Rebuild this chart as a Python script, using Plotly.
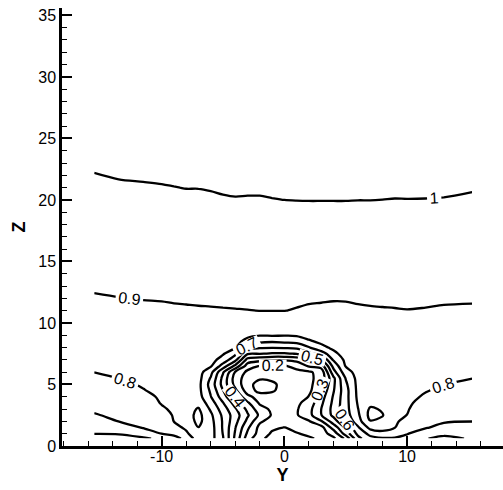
import numpy as np
import plotly.graph_objects as go

FONT = "Liberation Sans, Arial, Helvetica, sans-serif"

# Sample positions: spanwise Y (columns) and height Z (rows)
span_y = [-15.5, -13.5, -11.5, -10, -9, -8, -7, -6, -5, -4, -3, -2, -1, 0,
          1, 2, 3, 4, 5, 6, 7, 8, 9, 10, 11.5, 13, 15.3]
height_z = [0.6, 1, 1.5, 2, 2.5, 3, 3.5, 4, 4.5, 5, 5.5, 6, 6.5, 7, 7.5, 8,
            8.5, 9, 9.5, 10, 11, 12, 13, 15, 18, 21, 24]

# Velocity ratio profiles, one list per Y station (bottom to top)
u_y_neg15_5 = [0.575, 0.601, 0.631, 0.663, 0.694, 0.712, 0.727, 0.741, 0.756, 0.771, 0.785, 0.8005, 0.808, 0.816,
               0.824, 0.831, 0.839, 0.847, 0.855, 0.863, 0.879, 0.895, 0.907, 0.927, 0.957, 0.988, 1.018]
u_y_neg13_5 = [0.565, 0.605, 0.655, 0.701, 0.716, 0.730, 0.744, 0.758, 0.772, 0.786, 0.8005, 0.808, 0.815, 0.823,
               0.831, 0.838, 0.846, 0.853, 0.861, 0.869, 0.884, 0.899, 0.910, 0.931, 0.962, 0.993, 1.024]
u_y_neg11_5 = [0.585, 0.646, 0.705, 0.720, 0.735, 0.751, 0.766, 0.782, 0.797, 0.806, 0.812, 0.819, 0.826, 0.833,
               0.840, 0.847, 0.854, 0.861, 0.868, 0.875, 0.888, 0.902, 0.912, 0.933, 0.964, 0.995, 1.027]
u_y_neg10 = [0.620, 0.701, 0.723, 0.746, 0.768, 0.791, 0.804, 0.809, 0.815, 0.821, 0.827, 0.833, 0.839, 0.844,
             0.850, 0.856, 0.862, 0.868, 0.874, 0.880, 0.891, 0.903, 0.913, 0.934, 0.965, 0.997, 1.028]
u_y_neg9 = [0.680, 0.714, 0.762, 0.801, 0.806, 0.811, 0.817, 0.822, 0.827, 0.832, 0.837, 0.842, 0.847, 0.853,
            0.858, 0.863, 0.868, 0.873, 0.878, 0.884, 0.894, 0.904, 0.915, 0.936, 0.967, 0.999, 1.031]
u_y_neg8 = [0.715, 0.780, 0.820, 0.845, 0.855, 0.855, 0.850, 0.848, 0.848, 0.850, 0.852, 0.855, 0.858, 0.862,
            0.866, 0.869, 0.873, 0.877, 0.881, 0.885, 0.895, 0.905, 0.916, 0.937, 0.968, 1.001, 1.032]
u_y_neg7 = [0.860, 0.880, 0.898, 0.925, 0.930, 0.910, 0.870, 0.840, 0.830, 0.830, 0.835, 0.840, 0.848, 0.855,
            0.860, 0.865, 0.870, 0.875, 0.880, 0.885, 0.896, 0.906, 0.917, 0.938, 0.970, 1.001, 1.033]
u_y_neg6 = [0.840, 0.845, 0.845, 0.835, 0.820, 0.786, 0.749, 0.705, 0.684, 0.663, 0.691, 0.733, 0.812, 0.835,
            0.845, 0.853, 0.860, 0.866, 0.872, 0.882, 0.8965, 0.907, 0.918, 0.939, 0.971, 1.003, 1.034]
u_y_neg5 = [0.708, 0.696, 0.689, 0.689, 0.680, 0.650, 0.605, 0.547, 0.504, 0.465, 0.472, 0.511, 0.655, 0.760,
            0.810, 0.825, 0.840, 0.852, 0.862, 0.872, 0.897, 0.909, 0.920, 0.941, 0.974, 1.006, 1.038]
u_y_neg4 = [0.477, 0.489, 0.505, 0.531, 0.547, 0.514, 0.460, 0.389, 0.325, 0.268, 0.254, 0.289, 0.473, 0.629,
            0.720, 0.805, 0.830, 0.845, 0.857, 0.868, 0.898, 0.910, 0.921, 0.942, 0.975, 1.008, 1.040]
u_y_neg3 = [0.246, 0.283, 0.320, 0.374, 0.413, 0.377, 0.316, 0.230, 0.150, 0.130, 0.150, 0.175, 0.250, 0.360,
            0.510, 0.650, 0.770, 0.820, 0.840, 0.862, 0.899, 0.911, 0.921, 0.943, 0.975, 1.007, 1.039]
u_y_neg2 = [0.120, 0.160, 0.170, 0.215, 0.280, 0.241, 0.185, 0.150, 0.070, 0.065, 0.110, 0.150, 0.195, 0.330,
            0.505, 0.610, 0.720, 0.805, 0.829, 0.854, 0.9005, 0.911, 0.922, 0.943, 0.975, 1.007, 1.039]
u_y_neg1 = [0.070, 0.085, 0.120, 0.160, 0.190, 0.180, 0.160, 0.130, 0.090, 0.085, 0.115, 0.150, 0.185, 0.310,
            0.490, 0.605, 0.710, 0.810, 0.826, 0.853, 0.901, 0.912, 0.923, 0.944, 0.977, 1.009, 1.042]
u_y_0 = [0.060, 0.075, 0.097, 0.140, 0.170, 0.175, 0.160, 0.145, 0.130, 0.125, 0.135, 0.160, 0.190, 0.310,
         0.490, 0.610, 0.720, 0.805, 0.830, 0.856, 0.9006, 0.912, 0.923, 0.945, 0.978, 1.011, 1.044]
u_y_1 = [0.070, 0.093, 0.130, 0.165, 0.190, 0.190, 0.180, 0.170, 0.160, 0.155, 0.160, 0.175, 0.230, 0.330,
         0.505, 0.620, 0.730, 0.810, 0.828, 0.849, 0.897, 0.909, 0.921, 0.943, 0.978, 1.012, 1.046]
u_y_2 = [0.085, 0.120, 0.160, 0.190, 0.266, 0.266, 0.236, 0.203, 0.170, 0.165, 0.175, 0.185, 0.310, 0.440,
         0.575, 0.690, 0.790, 0.825, 0.843, 0.860, 0.893, 0.906, 0.918, 0.942, 0.977, 1.013, 1.049]
u_y_3 = [0.120, 0.160, 0.165, 0.289, 0.395, 0.399, 0.379, 0.355, 0.320, 0.280, 0.240, 0.235, 0.340, 0.490,
         0.640, 0.780, 0.815, 0.838, 0.852, 0.866, 0.891, 0.905, 0.917, 0.941, 0.977, 1.013, 1.049]
u_y_4 = [0.180, 0.236, 0.339, 0.447, 0.524, 0.532, 0.522, 0.510, 0.492, 0.480, 0.476, 0.560, 0.630, 0.710,
         0.780, 0.815, 0.830, 0.842, 0.855, 0.868, 0.887, 0.904, 0.916, 0.940, 0.977, 1.013, 1.050]
u_y_5 = [0.320, 0.444, 0.512, 0.603, 0.653, 0.664, 0.665, 0.665, 0.663, 0.680, 0.704, 0.760, 0.805, 0.822,
         0.832, 0.840, 0.848, 0.856, 0.864, 0.872, 0.889, 0.904, 0.916, 0.941, 0.977, 1.013, 1.049]
u_y_6 = [0.570, 0.625, 0.686, 0.761, 0.782, 0.797, 0.810, 0.820, 0.825, 0.828, 0.832, 0.836, 0.840, 0.845,
         0.850, 0.856, 0.862, 0.868, 0.874, 0.880, 0.893, 0.906, 0.918, 0.941, 0.977, 1.012, 1.048]
u_y_7 = [0.665, 0.730, 0.830, 0.895, 0.930, 0.915, 0.870, 0.845, 0.840, 0.840, 0.842, 0.845, 0.850, 0.855,
         0.860, 0.865, 0.870, 0.875, 0.880, 0.885, 0.8955, 0.907, 0.919, 0.942, 0.977, 1.012, 1.047]
u_y_8 = [0.685, 0.775, 0.830, 0.880, 0.905, 0.890, 0.862, 0.852, 0.850, 0.852, 0.855, 0.857, 0.860, 0.863,
         0.866, 0.870, 0.874, 0.878, 0.882, 0.886, 0.8966, 0.908, 0.919, 0.942, 0.977, 1.011, 1.045]
u_y_9 = [0.690, 0.740, 0.803, 0.815, 0.825, 0.830, 0.835, 0.840, 0.845, 0.850, 0.853, 0.856, 0.859, 0.862,
         0.866, 0.869, 0.873, 0.877, 0.880, 0.884, 0.8975, 0.909, 0.920, 0.943, 0.976, 1.010, 1.044]
u_y_10 = [0.675, 0.704, 0.736, 0.768, 0.799, 0.806, 0.812, 0.818, 0.823, 0.829, 0.835, 0.841, 0.847, 0.852,
          0.858, 0.864, 0.870, 0.876, 0.881, 0.887, 0.8988, 0.910, 0.921, 0.943, 0.977, 1.010, 1.043]
u_y_11_5 = [0.605, 0.659, 0.707, 0.724, 0.741, 0.758, 0.775, 0.7915, 0.804, 0.811, 0.818, 0.825, 0.832, 0.840,
            0.847, 0.854, 0.861, 0.868, 0.876, 0.883, 0.897, 0.909, 0.920, 0.943, 0.976, 1.010, 1.043]
u_y_13 = [0.575, 0.619, 0.673, 0.708, 0.723, 0.739, 0.755, 0.770, 0.786, 0.801, 0.809, 0.816, 0.824, 0.832,
          0.840, 0.847, 0.855, 0.863, 0.871, 0.878, 0.894, 0.907, 0.918, 0.941, 0.975, 1.009, 1.043]
u_y_15_3 = [0.610, 0.636, 0.668, 0.7005, 0.714, 0.729, 0.743, 0.757, 0.771, 0.786, 0.8005, 0.808, 0.817, 0.825,
            0.834, 0.842, 0.850, 0.859, 0.867, 0.876, 0.892, 0.906, 0.917, 0.939, 0.972, 1.004, 1.037]

# Axis ticks
y_tick_vals = [-10, 0, 10]
y_tick_text = ["-10", "0", "10"]
z_tick_vals = [0, 5, 10, 15, 20, 25, 30, 35]

stations = [u_y_neg15_5, u_y_neg13_5, u_y_neg11_5, u_y_neg10, u_y_neg9, u_y_neg8, u_y_neg7,
            u_y_neg6, u_y_neg5, u_y_neg4, u_y_neg3, u_y_neg2, u_y_neg1, u_y_0, u_y_1, u_y_2,
            u_y_3, u_y_4, u_y_5, u_y_6, u_y_7, u_y_8, u_y_9, u_y_10, u_y_11_5, u_y_13, u_y_15_3]
field = np.array(stations).T  # rows follow height_z, columns follow span_y

fig = go.Figure(go.Contour(
    x=span_y, y=height_z, z=field,
    contours=dict(start=0.1, end=1.0, size=0.1, coloring="lines",
                  showlabels=True, labelformat=".1~f",
                  labelfont=dict(family=FONT, size=16, color="black")),
    line=dict(width=2.3, smoothing=0.9),
    colorscale=[[0, "black"], [1, "black"]],
    showscale=False, hoverinfo="skip",
))

axis_common = dict(
    showline=True, linecolor="black", linewidth=2.5, mirror=False,
    showgrid=False, zeroline=False, ticks="inside", ticklen=10, tickwidth=2,
    tickcolor="black", automargin=False,
    tickfont=dict(family=FONT, size=16, color="black"),
)

fig.update_layout(
    width=503, height=490,
    margin=dict(l=62, r=0, t=8, b=44),
    paper_bgcolor="white", plot_bgcolor="white",
    template="none",
    font=dict(family=FONT, color="black"),
    xaxis=dict(range=[-18.12, 17.82], tickmode="array", tickvals=y_tick_vals, ticktext=y_tick_text,
               ticklabelstandoff=-6,
               minor=dict(dtick=2, tick0=0, ticks="inside", ticklen=5, tickwidth=1, tickcolor="black"),
               title=dict(text="<b>Y</b>", font=dict(family=FONT, size=18, color="black"), standoff=2),
               **axis_common),
    yaxis=dict(range=[0, 35.6], tickmode="array", tickvals=z_tick_vals,
               minor=dict(dtick=1, tick0=0, ticks="inside", ticklen=5, tickwidth=1, tickcolor="black"),
               title=dict(text="<b>Z</b>", font=dict(family=FONT, size=18, color="black"), standoff=8),
               **axis_common),
)

fig.write_html("out.html")
